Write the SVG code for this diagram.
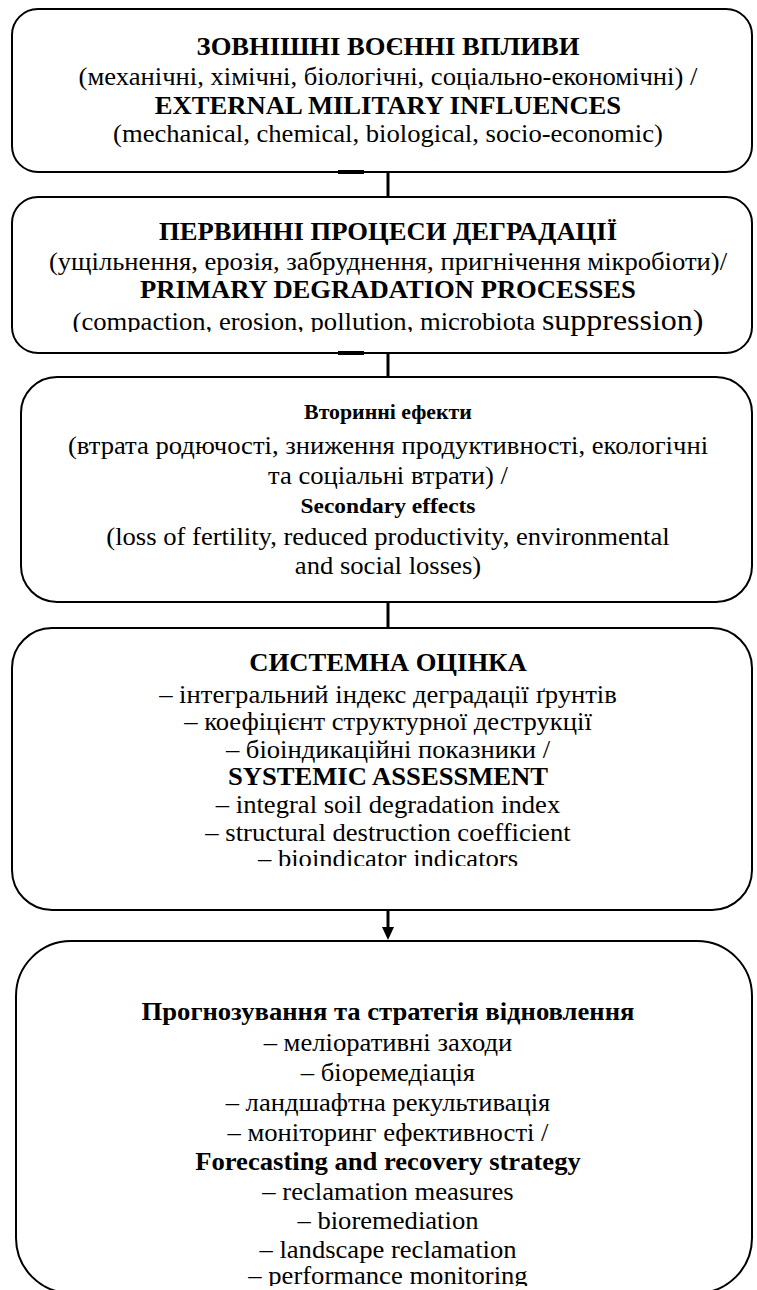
<svg xmlns="http://www.w3.org/2000/svg" width="757" height="1290" viewBox="0 0 757 1290">
<style>
.box{fill:#fff;stroke:#000;stroke-width:2}
.t{font-family:"Liberation Serif","Times New Roman",serif;font-size:25px;fill:#000;text-anchor:middle}
.b{font-weight:bold}
.conn{stroke:#000;stroke-width:3;fill:none}
.acc{stroke:#000;stroke-width:4}
</style>
<defs>
<clipPath id="clipComp" clipPathUnits="userSpaceOnUse">
<rect x="0" y="0" width="515" height="332"/>
<rect x="515" y="0" width="300" height="400"/>
</clipPath>
<clipPath id="clipBio" clipPathUnits="userSpaceOnUse">
<rect x="0" y="0" width="800" height="866"/>
</clipPath>
<clipPath id="clipPerf" clipPathUnits="userSpaceOnUse">
<rect x="0" y="0" width="800" height="1286"/>
</clipPath>
</defs>
<rect width="757" height="1290" fill="#fff"/>
<g id="connectors">
<line class="conn" x1="388" y1="172" x2="388" y2="197"/>
<line class="conn" x1="388" y1="353" x2="388" y2="377"/>
<line class="conn" x1="388" y1="602" x2="388" y2="628"/>
<line class="conn" x1="388" y1="910" x2="388" y2="928"/>
<path d="M382,927 L394,927 L388,940 Z" fill="#000"/>
</g>
<g id="node1">
<rect class="box" x="12" y="9" width="740" height="163" rx="26"/>
<line class="acc" x1="338" y1="172" x2="364" y2="172"/>
<g transform="matrix(1.065 0 0 1 -25.22 0)">
<text class="t b" x="388" y="55">ЗОВНІШНІ ВОЄННІ ВПЛИВИ</text>
<text class="t" x="388" y="85">(механічні, хімічні, біологічні, соціально-економічні) /</text>
<text class="t b" x="388" y="114">EXTERNAL MILITARY INFLUENCES</text>
<text class="t" x="388" y="142">(mechanical, chemical, biological, socio-economic)</text>
</g>
</g>
<g id="node2">
<rect class="box" x="12" y="197" width="740" height="156" rx="26"/>
<line class="acc" x1="338" y1="353" x2="364" y2="353"/>
<g transform="matrix(1.065 0 0 1 -25.22 0)">
<text class="t b" x="388" y="240">ПЕРВИННІ ПРОЦЕСИ ДЕГРАДАЦІЇ</text>
<text class="t" x="388" y="270">(ущільнення, ерозія, забруднення, пригнічення мікробіоти)/</text>
<text class="t b" x="388" y="298">PRIMARY DEGRADATION PROCESSES</text>
<text class="t" x="388" y="330" clip-path="url(#clipComp)">(compaction, erosion, pollution, microbiota <tspan style="font-size:30px">suppression)</tspan></text>
</g>
</g>
<g id="node3">
<rect class="box" x="21" y="377" width="731" height="225" rx="36"/>
<g transform="matrix(1.065 0 0 1 -25.22 0)">
<text class="t b" x="388" y="419" style="font-size:20.5px">Вторинні ефекти</text>
<text class="t" x="388" y="454">(втрата родючості, зниження продуктивності, екологічні</text>
<text class="t" x="388" y="484">та соціальні втрати) /</text>
<text class="t b" x="388" y="513" style="font-size:22px">Secondary effects</text>
<text class="t" x="388" y="545">(loss of fertility, reduced productivity, environmental</text>
<text class="t" x="388" y="574">and social losses)</text>
</g>
</g>
<g id="node4">
<rect class="box" x="12" y="628" width="740" height="282" rx="40"/>
<g transform="matrix(1.065 0 0 1 -25.22 0)">
<text class="t b" x="388" y="671">СИСТЕМНА ОЦІНКА</text>
<text class="t" x="388" y="703">– інтегральний індекс деградації ґрунтів</text>
<text class="t" x="388" y="730">– коефіцієнт структурної деструкції</text>
<text class="t" x="388" y="758">– біоіндикаційні показники /</text>
<text class="t b" x="388" y="785">SYSTEMIC ASSESSMENT</text>
<text class="t" x="388" y="813">– integral soil degradation index</text>
<text class="t" x="388" y="841">– structural destruction coefficient</text>
<text class="t" x="388" y="867" clip-path="url(#clipBio)">– bioindicator indicators</text>
</g>
</g>
<g id="node5">
<rect class="box" x="16" y="941" width="736" height="352" rx="55"/>
<g transform="matrix(1.065 0 0 1 -25.22 0)">
<text class="t b" x="388" y="1020">Прогнозування та стратегія відновлення</text>
<text class="t" x="388" y="1051">– меліоративні заходи</text>
<text class="t" x="388" y="1081">– біоремедіація</text>
<text class="t" x="388" y="1111">– ландшафтна рекультивація</text>
<text class="t" x="388" y="1141">– моніторинг ефективності /</text>
<text class="t b" x="388" y="1170">Forecasting and recovery strategy</text>
<text class="t" x="388" y="1200">– reclamation measures</text>
<text class="t" x="388" y="1229">– bioremediation</text>
<text class="t" x="388" y="1258">– landscape reclamation</text>
<text class="t" x="388" y="1284" clip-path="url(#clipPerf)">– performance monitoring</text>
</g>
</g>
</svg>
